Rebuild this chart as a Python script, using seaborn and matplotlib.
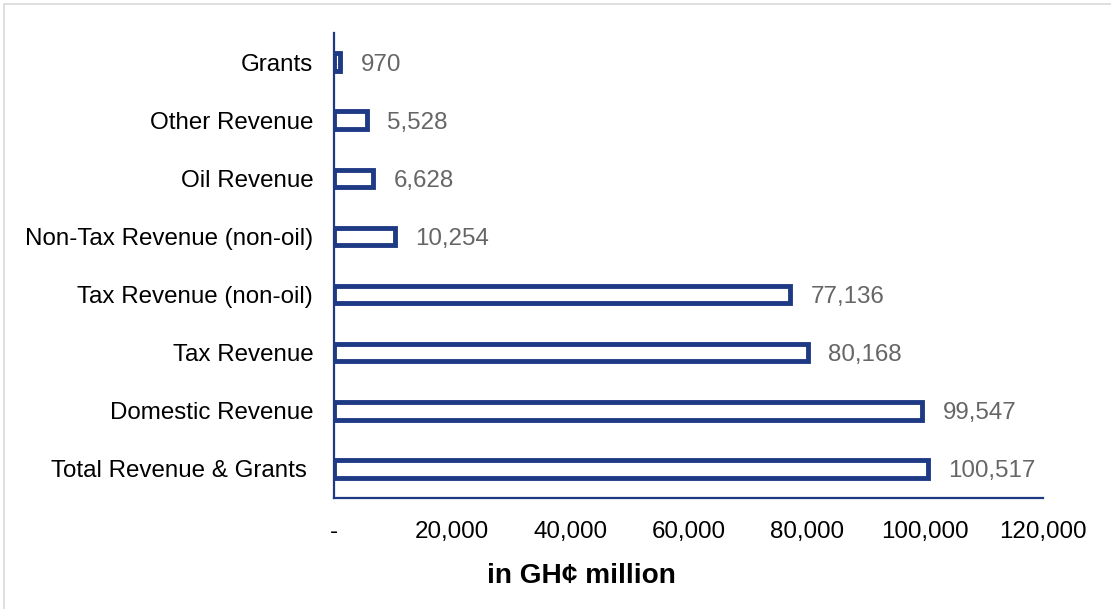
import matplotlib
matplotlib.use("Agg")
import matplotlib.pyplot as plt
import seaborn as sns
import pandas as pd
from matplotlib.lines import Line2D

categories = ["Grants", "Other Revenue", "Oil Revenue", "Non-Tax Revenue (non-oil)",
              "Tax Revenue (non-oil)", "Tax Revenue", "Domestic Revenue",
              "Total Revenue & Grants "]
values = [970, 5528, 6628, 10254, 77136, 80168, 99547, 100517]
x_ticks = [0, 20000, 40000, 60000, 80000, 100000, 120000]
x_tick_labels = ["-", "20,000", "40,000", "60,000", "80,000", "100,000", "120,000"]

df = pd.DataFrame({"category": categories, "value": values})

sns.set_theme(style="white")
plt.rcParams["font.family"] = ["Liberation Sans", "DejaVu Sans"]

navy = "#1F3A84"
fs = 17.4
fig = plt.figure(figsize=(11.11, 6.09), dpi=100)
ax = fig.add_axes([334/1111, 1-498/609, (1043-334)/1111, (498-33)/609])

sns.barplot(data=df, x="value", y="category", orient="h", ax=ax,
            width=0.3, color="white", edgecolor=navy, linewidth=3.5)
for p in ax.patches:
    p.set_facecolor("white")
    p.set_edgecolor(navy)
    p.set_joinstyle("miter")

for i, v in enumerate(values):
    ax.text(v + 3500, i, f"{v:,}", va="center_baseline", ha="left", fontsize=fs, color="#666666")

ax.set_xlim(0, 120000)
ax.set_ylim(7.5, -0.5)
ax.set_xticks(x_ticks)
ax.set_xticklabels(x_tick_labels, fontsize=fs, color="black")
ax.tick_params(axis="x", length=0, pad=16.5)
ax.tick_params(axis="y", length=0, pad=15, labelsize=fs, labelcolor="black")
ax.set_ylabel("")
ax.set_xlabel("in GH¢ million", fontsize=20.2, fontweight="bold", color="black")
ax.xaxis.set_label_coords((581-334)/709, -(576-498)/465)
ax.xaxis.label.set_va("center")

for s in ["top", "right"]:
    ax.spines[s].set_visible(False)
for s in ["left", "bottom"]:
    ax.spines[s].set_visible(True)
    ax.spines[s].set_color(navy)
    ax.spines[s].set_linewidth(1.6)
ax.grid(False)

# light gray frame
fig.add_artist(Line2D([4/1111, 1], [1-4/609, 1-4/609], transform=fig.transFigure, color="#D9D9D9", lw=1.2))
fig.add_artist(Line2D([4/1111, 4/1111], [0, 1-4/609], transform=fig.transFigure, color="#D9D9D9", lw=1.2))

fig.savefig("out.png", dpi=100)
